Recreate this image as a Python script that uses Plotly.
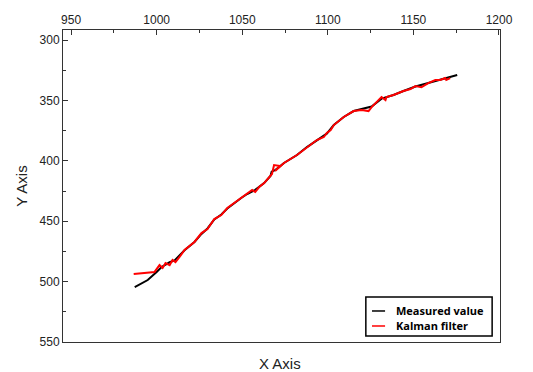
import plotly.graph_objects as go

# Measured value (black)
meas_x = [987.2, 994.8, 1000.0, 1002.9, 1007.6, 1010.5, 1016.3, 1022.1, 1026.2, 1029.7,
          1033.7, 1037.8, 1041.3, 1045.3, 1049.4, 1052.9, 1057.6, 1062.8, 1066.5, 1067.2,
          1069.5, 1074.4, 1082.0, 1087.8, 1093.6, 1099.4, 1103.5, 1109.3, 1115.1, 1121.0,
          1125.6, 1131.4, 1138.4, 1144.2, 1151.2, 1158.7, 1165.7, 1175.6]
meas_y = [504.5, 498.7, 492.0, 487.9, 484.0, 482.5, 474.0, 467.2, 460.5, 456.0,
          448.5, 444.5, 439.5, 435.0, 430.8, 427.5, 424.0, 418.4, 412.5, 409.0,
          407.5, 401.8, 395.2, 388.6, 382.8, 377.5, 370.4, 363.7, 358.8, 357.0,
          355.0, 348.5, 345.5, 342.2, 338.5, 335.6, 333.0, 329.0]

# Kalman filter (red)
kal_x = [986.6, 998.8, 1001.7, 1003.5, 1005.2, 1007.6, 1009.3, 1011.0, 1013.4, 1016.3,
         1022.1, 1026.2, 1029.7, 1033.7, 1037.8, 1041.3, 1045.3, 1049.4, 1052.9, 1055.8,
         1057.6, 1059.9, 1062.8, 1067.4, 1068.6, 1072.1, 1069.2, 1074.4, 1082.0, 1087.8,
         1093.6, 1097.7, 1099.4, 1101.7, 1103.5, 1109.3, 1115.1, 1119.8, 1123.8, 1125.6,
         1128.5, 1131.4, 1133.7, 1134.3, 1138.4, 1144.2, 1148.3, 1151.2, 1154.7, 1158.7,
         1162.8, 1165.7, 1168.6, 1169.2, 1171.5]
kal_y = [493.7, 492.0, 486.3, 488.7, 484.6, 486.3, 482.1, 483.8, 479.6, 473.8,
         467.2, 459.8, 456.5, 448.2, 444.9, 439.1, 434.9, 430.8, 427.5, 424.2,
         425.8, 421.7, 418.4, 410.9, 403.5, 404.3, 408.4, 401.8, 395.2, 388.6,
         382.8, 380.3, 377.0, 374.5, 370.4, 363.7, 358.8, 357.9, 358.8, 355.5,
         351.3, 347.2, 349.7, 347.2, 345.5, 342.2, 340.6, 338.1, 339.0, 335.6,
         333.1, 333.1, 331.5, 333.1, 331.5]

series_names = ["Measured value", "Kalman filter"]
series_colors = ["black", "#ff0000"]

x_ticks = [950, 1000, 1050, 1100, 1150, 1200]
y_ticks = [300, 350, 400, 450, 500, 550]

fig = go.Figure()
fig.add_trace(go.Scatter(x=meas_x, y=meas_y, mode="lines", name=series_names[0],
                         line=dict(color=series_colors[0], width=2)))
fig.add_trace(go.Scatter(x=kal_x, y=kal_y, mode="lines", name=series_names[1],
                         line=dict(color=series_colors[1], width=2)))

# manual compact legend (paper coordinates)
shapes = [dict(type="rect", xref="paper", yref="paper", x0=0.693, x1=0.982, y0=0.019, y1=0.144,
               line=dict(color="black", width=1.5), fillcolor="white", layer="above")]
annotations = []
row_y = [0.0994, 0.0513]
for name, col, yy in zip(series_names, series_colors, row_y):
    shapes.append(dict(type="line", xref="paper", yref="paper", x0=0.707, x1=0.737, y0=yy, y1=yy,
                       line=dict(color=col, width=1.5), layer="above"))
    annotations.append(dict(text=name, xref="paper", yref="paper", x=0.758, y=yy,
                            xanchor="left", yanchor="middle", showarrow=False,
                            font=dict(family="Open Sans, sans-serif", size=11, color="black", weight="bold")))

annotations.append(dict(text="X Axis", xref="paper", yref="paper", x=0.496, y=-0.035,
                        xanchor="center", yanchor="top", showarrow=False,
                        font=dict(family="Liberation Sans, Arial, sans-serif", size=15, color="#222")))

axis_font = dict(family="Liberation Sans, Arial, sans-serif", size=12, color="#222")
fig.update_layout(
    width=533, height=372,
    margin=dict(l=63, r=33, t=30, b=30, autoexpand=False),
    paper_bgcolor="white", plot_bgcolor="white",
    showlegend=False,
    xaxis=dict(range=[945.3, 1200.6], side="top", tickvals=x_ticks, automargin=False,
               ticks="inside", ticklen=5, tickcolor="#333", tickwidth=1,
               minor=dict(ticks="inside", ticklen=3, dtick=25, tick0=950, tickcolor="#333"),
               showline=True, linecolor="#333", linewidth=1, mirror=True,
               showgrid=False, zeroline=False, tickfont=axis_font),
    yaxis=dict(range=[550, 291.7], tickvals=y_ticks, automargin=False,
               ticks="inside", ticklen=5, tickcolor="#333", tickwidth=1,
               minor=dict(ticks="inside", ticklen=3, dtick=25, tick0=300, tickcolor="#333"),
               showline=True, linecolor="#333", linewidth=1, mirror=True,
               showgrid=False, zeroline=False, tickfont=axis_font,
               title=dict(text="Y Axis", font=dict(family="Liberation Sans, Arial, sans-serif", size=15, color="#222"),
                          standoff=8)),
    shapes=shapes,
    annotations=annotations,
)

fig.write_html("out.html", config={"displayModeBar": False},
               post_script="document.body.style.margin='0';")
